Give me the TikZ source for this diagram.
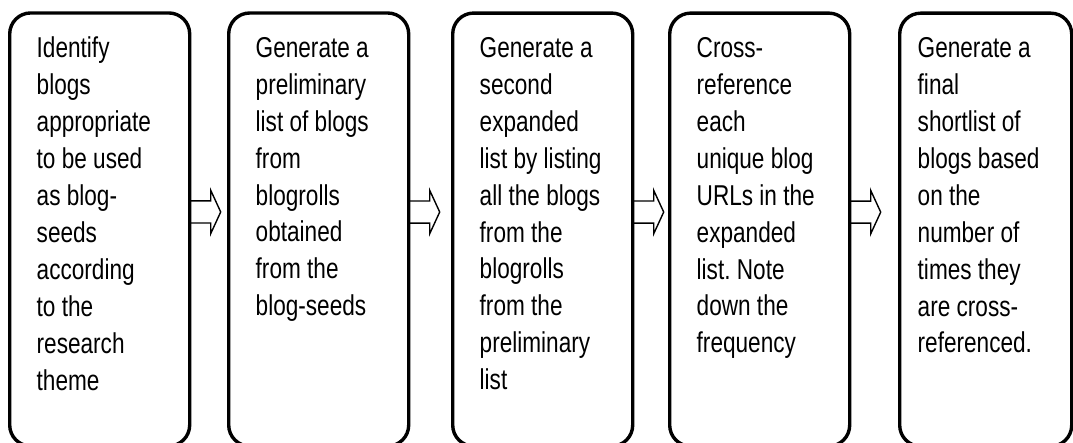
\documentclass[tikz,border=0pt]{standalone}
\usepackage{fontspec}
\setmainfont{Liberation Sans}
\usetikzlibrary{positioning}
\frenchspacing
\newcommand{\stagetext}[2][126pt]{\parbox[t][303pt][t]{#1}{\fontsize{22.6}{29.1}\selectfont\raggedright #2}}
\begin{document}
\begin{tikzpicture}[x=1pt, y=1pt, yscale=1.27, transform shape,
  stage/.style={draw, line width=3.4pt, rounded corners=21pt, outer sep=0pt, inner xsep=27pt, inner ysep=19pt},
  flowarrow/.style={draw, line width=1.4pt, line join=miter}]
\useasboundingbox (0,0) rectangle (1073,-348.8);
\node[stage, anchor=north west] (s1) at (9.7,-10.2) {\stagetext{Identify\\ blogs\\ appropriate\\ to be used\\ as blog-\\ seeds\\ according\\ to the\\ research\\ theme}};
\node[stage, right=39pt of s1] (s2) {\stagetext{Generate a\\ preliminary\\ list of blogs\\ from\\ blogrolls\\ obtained\\ from the\\ blog-seeds}};
\node[stage, right=44pt of s2] (s3) {\stagetext{Generate a\\ second\\ expanded\\ list by listing\\ all the blogs\\ from the\\ blogrolls\\ from the\\ preliminary\\ list}};
\node[stage, right=37pt of s3] (s4) {\stagetext{Cross-\\ reference\\ each\\ unique blog\\ URLs in the\\ expanded\\ list. Note\\ down the\\ frequency}};
\node[stage, inner xsep=18pt, right=50pt of s4] (s5) {\stagetext[136pt]{Generate a\\ final\\ shortlist of\\ blogs based\\ on the\\ number of\\ times they\\ are cross-\\ referenced.}};
\foreach \n in {s1,s2,s3,s4}
  \draw[flowarrow] (\n.north east) ++(0,-148) -- ++(21,0) -- ++(0,8.4) -- ++(10,-17.1) -- ++(-10,-17.1) -- ++(0,8.4) -- ++(-21,0);
\end{tikzpicture}
\end{document}
